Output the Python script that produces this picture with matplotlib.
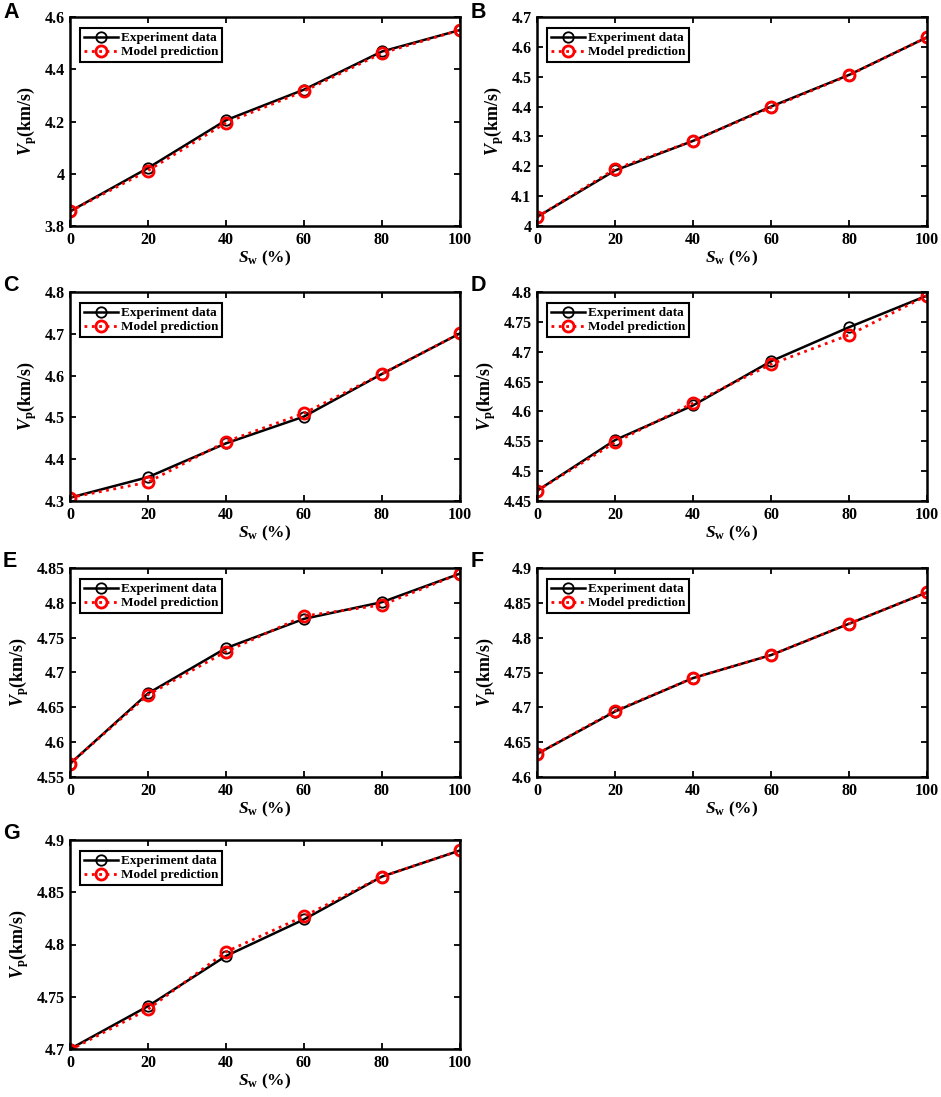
import numpy as np
import matplotlib
matplotlib.use('Agg')
from matplotlib import pyplot as plt
from matplotlib.ticker import FuncFormatter

plt.rcParams['font.family'] = 'Liberation Serif'
plt.rcParams['font.weight'] = 'bold'
plt.rcParams['axes.labelweight'] = 'bold'
plt.rcParams['mathtext.fontset'] = 'custom'
plt.rcParams['mathtext.rm'] = 'Liberation Serif:bold'
plt.rcParams['mathtext.it'] = 'Liberation Serif:bold:italic'
plt.rcParams['mathtext.bf'] = 'Liberation Serif:bold'

sw = [0, 20, 40, 60, 80, 100]

exp_a = [3.856, 4.022, 4.205, 4.322, 4.468, 4.550]
mod_a = [3.856, 4.012, 4.195, 4.316, 4.462, 4.550]
exp_b = [4.030, 4.186, 4.285, 4.400, 4.506, 4.632]
mod_b = [4.030, 4.191, 4.285, 4.397, 4.505, 4.632]
exp_c = [4.308, 4.357, 4.438, 4.502, 4.604, 4.701]
mod_c = [4.308, 4.345, 4.442, 4.510, 4.604, 4.701]
exp_d = [4.467, 4.552, 4.610, 4.684, 4.741, 4.794]
mod_d = [4.467, 4.548, 4.614, 4.679, 4.728, 4.794]
exp_e = [4.569, 4.670, 4.735, 4.777, 4.801, 4.842]
mod_e = [4.569, 4.668, 4.730, 4.781, 4.797, 4.842]
exp_f = [4.633, 4.694, 4.742, 4.775, 4.820, 4.865]
mod_f = [4.633, 4.695, 4.742, 4.775, 4.820, 4.865]
exp_g = [4.700, 4.741, 4.789, 4.824, 4.865, 4.890]
mod_g = [4.699, 4.738, 4.793, 4.827, 4.865, 4.890]

letters = ['A', 'B', 'C', 'D', 'E', 'F', 'G']
exps = [exp_a, exp_b, exp_c, exp_d, exp_e, exp_f, exp_g]
mods = [mod_a, mod_b, mod_c, mod_d, mod_e, mod_f, mod_g]
ylims = [(3.8, 4.6), (4.0, 4.7), (4.3, 4.8), (4.45, 4.8), (4.55, 4.85), (4.6, 4.9), (4.7, 4.9)]
ysteps = [0.2, 0.1, 0.1, 0.05, 0.05, 0.05, 0.05]

W, H = 941, 1097
fig = plt.figure(figsize=(W/100, H/100), dpi=100)

lefts = [70, 537]
tops = [17, 292, 568, 840]
aw, ah = 390, 209

for k in range(7):
  r, c = k // 2, k % 2
  x0 = lefts[c]
  y0 = tops[r]
  ax = fig.add_axes([x0/W, 1-(y0+ah)/H, aw/W, ah/H])
  ax.plot(sw, exps[k], '-', color='black', lw=1.8, marker='o', ms=7.5,
          mfc='none', mec='black', mew=1.3, label='Experiment data')
  ax.plot(sw, mods[k], ':', color='red', lw=2.0, marker='o', ms=8,
          mfc='none', mec='red', mew=2.0, label='Model prediction')
  ax.set_xlim(0, 100)
  ax.set_ylim(*ylims[k])
  ax.set_xticks(sw)
  lo, hi = ylims[k]
  ax.set_yticks(np.round(np.arange(lo, hi+1e-9, ysteps[k]), 3))
  ax.yaxis.set_major_formatter(FuncFormatter(lambda v, p: '%g' % round(v, 3)))
  ax.tick_params(direction='in', top=True, right=True, length=4.5, width=1.3,
                 labelsize=11.5, pad=4)
  for s in ax.spines.values():
    s.set_linewidth(1.8)
  ax.set_xlabel(r'$S_{\rm w}$ (%)', fontsize=12.5, labelpad=1)
  ax.set_ylabel(r'$V_{\rm p}$(km/s)', fontsize=13, labelpad=4)
  leg = ax.legend(loc='upper left', bbox_to_anchor=(10/aw, 1-11/ah), borderaxespad=0,
                  fontsize=9.5, handlelength=2.6, handletextpad=0.2, labelspacing=0.15,
                  borderpad=0.3, fancybox=False, framealpha=1, edgecolor='black')
  leg.get_frame().set_linewidth(1.5)
  lx = 3 if c == 0 else 471
  fig.text(lx/W, 1-max(y0-17, 2)/H, letters[k], fontsize=15.5, fontweight='bold',
           family='Liberation Sans', va='top', ha='left')

fig.savefig('out.png', dpi=100)
